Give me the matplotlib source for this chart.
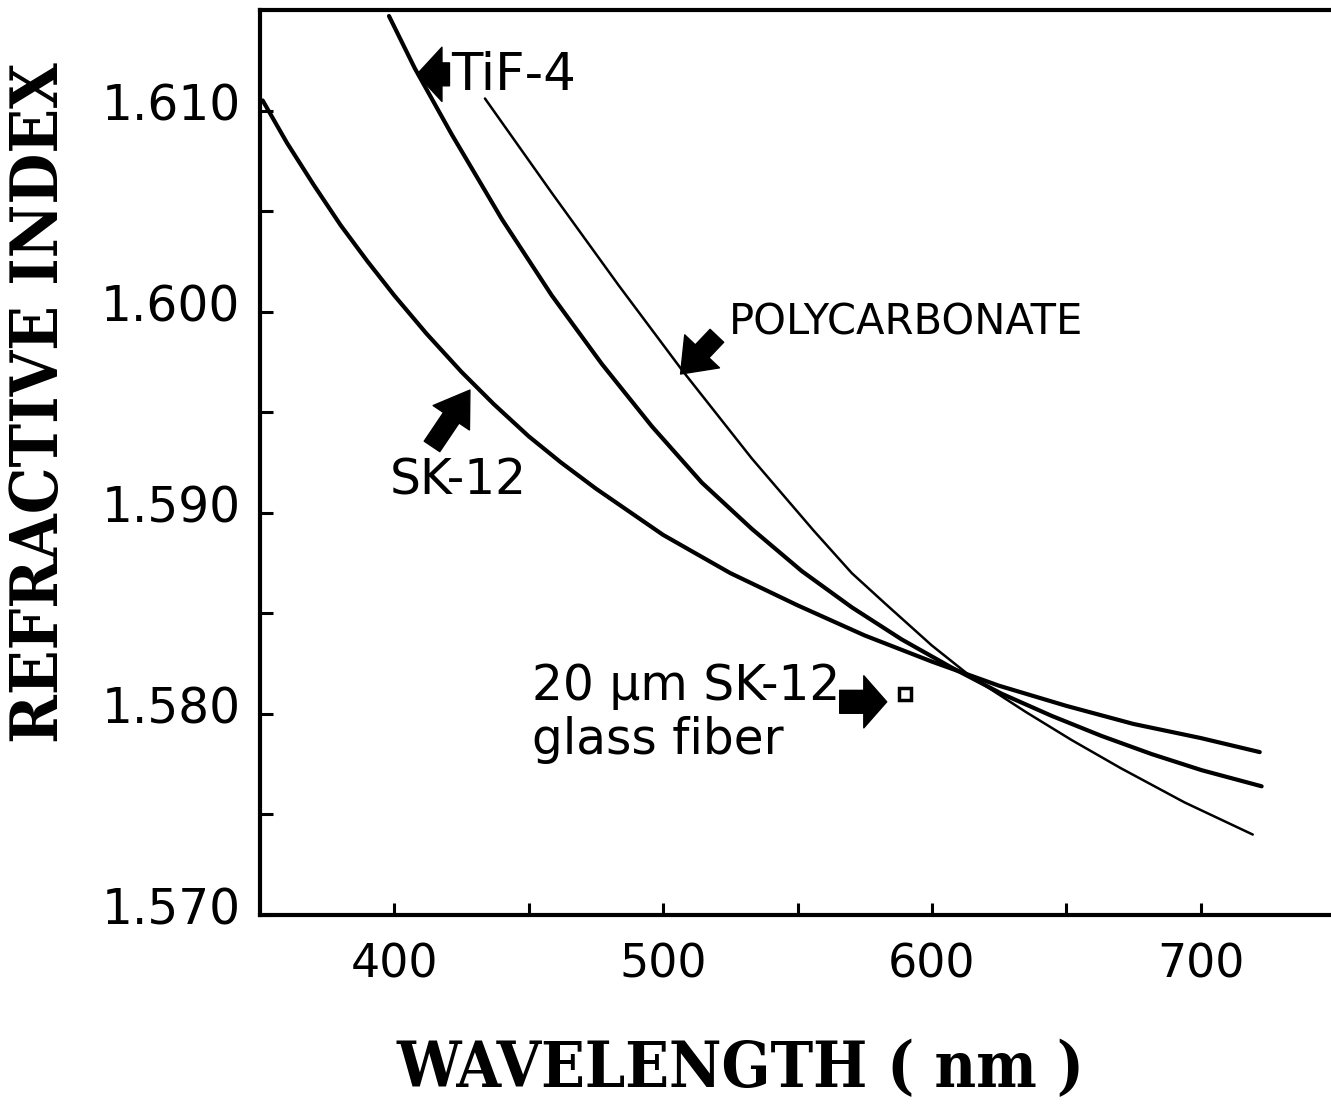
import numpy as np
import matplotlib
matplotlib.use('Agg')
import matplotlib.pyplot as plt
from matplotlib import transforms

# dispersion curves, wavelength in nm -> refractive index
sk12_wl = [351, 360, 370, 380, 390, 400, 412, 425, 437, 450, 462, 475, 500, 525, 550, 575, 600, 625, 650, 675,
           700, 722]
sk12_n = [1.6105, 1.6084, 1.6063, 1.6043, 1.6025, 1.6008, 1.5989, 1.5970, 1.5954, 1.5938, 1.5925, 1.5912,
          1.5889, 1.5870, 1.5854, 1.5839, 1.5826, 1.5814, 1.5804, 1.5795, 1.5788, 1.5781]

tif4_wl = [398.0, 407.6, 421.4, 440.0, 458.6, 477.2, 495.8, 514.4, 533.0, 551.6, 570.2, 588.8, 607.4, 626.0,
           644.6, 663.2, 681.8, 700.4, 722.7]
tif4_n = [1.6147, 1.6121, 1.6088, 1.6046, 1.6008, 1.5974, 1.5943, 1.5915, 1.5892, 1.5871, 1.5853, 1.5837,
          1.5823, 1.5810, 1.5799, 1.5789, 1.5780, 1.5772, 1.5764]

pc_wl = [433.7, 458.6, 483.5, 507.0, 533.0, 556.1, 570.2, 582.5, 600.0, 614.1, 634.9, 652.0, 670.3, 694.0, 719.4]
pc_n = [1.6106, 1.6059, 1.6013, 1.5971, 1.5927, 1.5891, 1.5870, 1.5855, 1.5834, 1.5819, 1.5801, 1.5787,
        1.5773, 1.5756, 1.5740]

# measured fiber point
fiber_wl = [590.0]
fiber_n = [1.5810]

x_ticks = [400, 450, 500, 550, 600, 650, 700]
x_labels = ['400', '', '500', '', '600', '', '700']
y_ticks = [1.570, 1.575, 1.580, 1.585, 1.590, 1.595, 1.600, 1.605, 1.610]
y_labels = ['1.570', '', '1.580', '', '1.590', '', '1.600', '', '1.610']

W, H = 1331, 1120
fig = plt.figure(figsize=(W / 100, H / 100), dpi=100)
ax = fig.add_axes([260 / W, 1 - 915 / H, 1075 / W, 905 / H])

line_kw = dict(color='black', solid_capstyle='round', solid_joinstyle='round')
ax.plot(sk12_wl, sk12_n, lw=3.0, **line_kw)
ax.plot(tif4_wl, tif4_n, lw=3.0, **line_kw)
ax.plot(pc_wl, pc_n, lw=1.8, **line_kw)
ax.plot(fiber_wl, fiber_n, 's', mfc='white', mec='black', mew=2.5, ms=9)

ax.set_xlim(350, 750)
ax.set_ylim(1.570, 1.615)

ax.set_xticks(x_ticks)
ax.set_xticklabels(x_labels, fontsize=33, family='DejaVu Sans')
ax.set_yticks(y_ticks)
ax.set_yticklabels(y_labels, fontsize=35, family='DejaVu Sans')
ax.tick_params(direction='in', length=9, width=2.2)
ax.tick_params(axis='y', pad=14)
ax.tick_params(axis='x', pad=20)

# подписи делений по y чуть выше делений
shift = transforms.ScaledTranslation(0, 0.09, fig.dpi_scale_trans)
for lab in ax.get_yticklabels():
    lab.set_transform(lab.get_transform() + shift)

ax.spines['right'].set_visible(False)
for s in ['left', 'bottom', 'top']:
    ax.spines[s].set_linewidth(3)


def arrow(tip, tail, hw, hl, tw, scale=30):
    style = 'simple,head_length=%g,head_width=%g,tail_width=%g' % (hl, hw, tw)
    ax.annotate('', xy=tip, xytext=tail,
                arrowprops=dict(arrowstyle=style, color='black', shrinkA=0, shrinkB=0,
                                mutation_scale=scale))


# стрелки и надписи
arrow((408.4, 1.6118), (420.5, 1.6118), 1.3, 0.6, 0.55)
ax.text(421.0, 1.6117, 'TiF-4', fontsize=37, family='DejaVu Sans', ha='left', va='center')

arrow((506.5, 1.5969), (520.0, 1.5988), 1.15, 0.75, 0.45)
ax.text(524.4, 1.59946, 'POLYCARBONATE', fontsize=30, family='DejaVu Sans', ha='left', va='center')

arrow((428.1, 1.5961), (414.0, 1.5933), 1.05, 0.8, 0.45)
ax.text(398.3, 1.5916, 'SK-12', fontsize=35, family='DejaVu Sans', ha='left', va='center')

arrow((583.2, 1.5806), (565.7, 1.5806), 1.25, 0.55, 0.55)
ax.text(451.2, 1.5814, '20 µm SK-12', fontsize=35, family='DejaVu Sans', ha='left', va='center')
ax.text(451.2, 1.5787, 'glass fiber', fontsize=35, family='DejaVu Sans', ha='left', va='center')

# подписи осей
fig.text(740 / W, 1 - 1070 / H, 'WAVELENGTH ( nm )', fontsize=46, family='DejaVu Serif',
         weight='heavy', fontstretch='condensed', ha='center', va='center')
fig.text(40 / W, 1 - 403 / H, 'REFRACTIVE INDEX', fontsize=47, family='DejaVu Serif',
         weight='heavy', fontstretch='condensed', rotation=90, ha='center', va='center')

fig.savefig('out.png', dpi=100)
